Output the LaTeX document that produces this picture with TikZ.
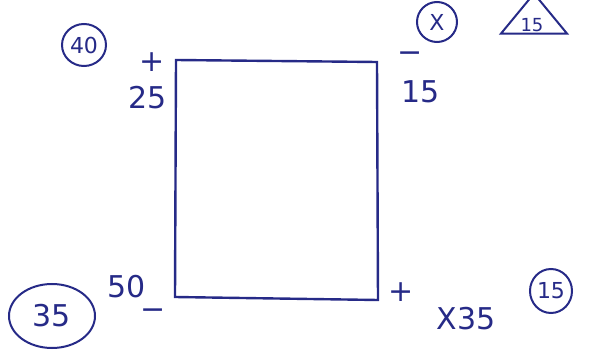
\documentclass[tikz,border=0pt]{standalone}
\usepackage{fontspec}
\setmainfont{DejaVu Sans}
\usetikzlibrary{shapes.geometric}
\definecolor{ink}{RGB}{38,42,135}
\tikzset{
  lbl/.style={text=ink, inner sep=0pt, font=\fontsize{30}{34}\selectfont},
  small/.style={text=ink, inner sep=0pt, font=\fontsize{22}{26}\selectfont},
  ring/.style={draw=ink, line width=2pt, ellipse, inner sep=0pt},
  edge/.style={draw=ink, line width=2.4pt, line cap=round}
}
\begin{document}
\begin{tikzpicture}[x=1pt,y=-1pt]
\useasboundingbox (0,0) rectangle (590,350);
\coordinate (tl) at (176,60);
\coordinate (tr) at (377,62);
\coordinate (br) at (378,300);
\coordinate (bl) at (175,297);
\draw[edge] (tl) -- (tr) -- (br) -- (bl) -- cycle;
% top-left
\node[ring, minimum width=44, minimum height=42] (c40) at (84,45) {};
\node[small] (t40) at (c40) {40};
\node[lbl] (plus1) at (152,62) {+};
\node[lbl] (n25) at (148,98) {25};
% top-right
\node[ring, circle, minimum size=40] (cx) at (437,22) {};
\node[small] (tx) at (cx) {X};
\node[draw=ink, line width=2pt, isosceles triangle, shape border rotate=90, isosceles triangle stretches, minimum height=40, minimum width=66, inner sep=0pt] (tri) at (534,18) {};
\node[small, font=\fontsize{18}{20}\selectfont] (t15a) at (532,25) {15};
\node[lbl] (minus1) at (410,57) {−};
\node[lbl] (n15) at (421,92) {15};
% bottom-left
\node[ring, minimum width=86, minimum height=64] (c35) at (52,316) {};
\node[lbl] (t35) at (c35) {35};
\node[lbl] (n50) at (127,287) {50};
\node[lbl] (minus2) at (153,314) {−};
% bottom-right
\node[lbl] (plus2) at (401,292) {+};
\node[lbl] (x35) at (466,319) {X35};
\node[ring, minimum width=42, minimum height=44] (c15) at (551,291) {};
\node[small] (t15b) at (c15) {15};
\end{tikzpicture}
\end{document}
